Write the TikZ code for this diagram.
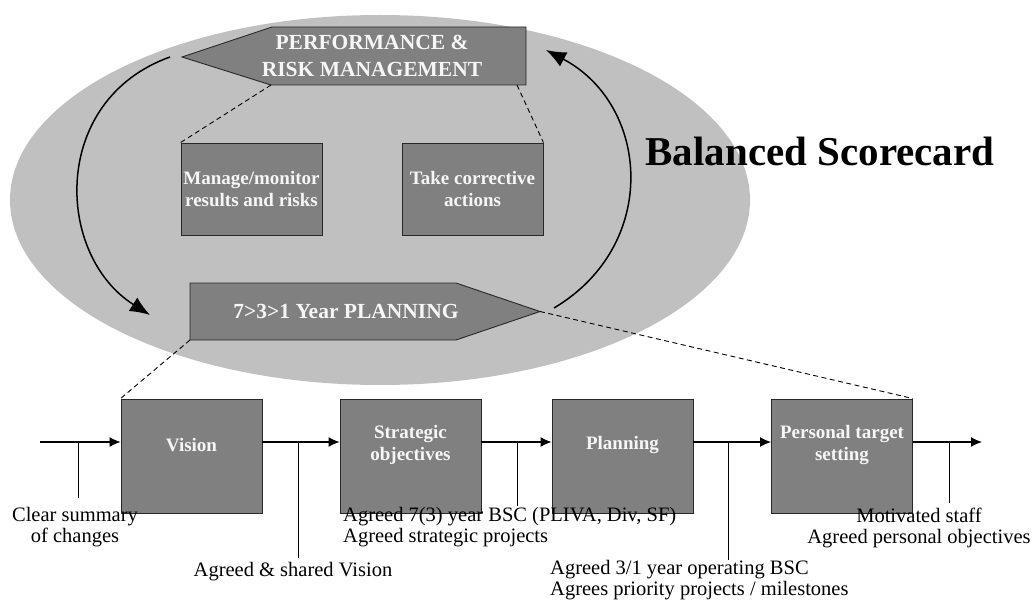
\documentclass[tikz,border=0pt]{standalone}
\usepackage{fontspec}
\setmainfont{Liberation Serif}
\usetikzlibrary{arrows.meta,positioning}

\definecolor{ovalgrey}{RGB}{192,192,192}
\definecolor{boxgrey}{RGB}{128,128,128}
\definecolor{boxline}{RGB}{40,40,40}
\definecolor{boxtext}{RGB}{246,246,246}

\tikzset{
  greybox/.style={draw=boxline, fill=boxgrey, line width=0.9pt, inner sep=0pt},
  boxlabel/.style={text=boxtext, font=\bfseries\fontsize{19}{22}\selectfont, align=center, inner sep=0pt},
  flowarrow/.style={-{Latex[length=11pt,width=10pt]}, line width=1.3pt},
  bigarrow/.style={-{Latex[length=20pt,width=16pt]}, line width=1.5pt},
  zoomline/.style={dash pattern=on 5pt off 3.5pt, line width=0.9pt},
  noteline/.style={line width=0.8pt},
  notetext/.style={font=\fontsize{20.5}{21}\selectfont, align=center, inner sep=0pt},
}

\begin{document}
\begin{tikzpicture}[x=1pt,y=-1pt]
\useasboundingbox (0,0) rectangle (1033,604);

% grey oval behind the cycle
\fill[ovalgrey] (380,200) ellipse [x radius=370pt, y radius=185pt];

% performance & risk management, pointing left
\coordinate (perftip) at (182,57);
\coordinate (perfnw) at (272,27);
\coordinate (perfne) at (526,27);
\coordinate (perfse) at (526,85);
\coordinate (perfsw) at (271,85);
\coordinate (perfcut) at (517,85);
\draw[greybox] (perftip) -- (perfnw) -- (perfne) -- (perfse) -- (perfsw) -- cycle;
\node[boxlabel, font=\bfseries\fontsize{21.5}{27}\selectfont] (perf) at (372,56) {PERFORMANCE \&\\RISK MANAGEMENT};

% 7>3>1 planning, pointing right
\coordinate (plansw) at (190,340);
\coordinate (plannw) at (190,283);
\coordinate (planne) at (456,283);
\coordinate (plantip) at (540,311.5);
\coordinate (planse) at (456,340);
\draw[greybox] (plansw) -- (plannw) -- (planne) -- (plantip) -- (planse) -- cycle;
\node[boxlabel, font=\bfseries\fontsize{21.5}{24}\selectfont] (plan) at (346,311) {7>3>1 Year PLANNING};

% the two inner boxes
\node[greybox, boxlabel, minimum width=141pt, minimum height=92pt] (manage) at (251.5,189) {Manage/monitor\\results and risks};
\node[greybox, boxlabel, minimum width=141pt, minimum height=92pt] (correct) at (472.5,189) {Take corrective\\actions};
\draw[zoomline] (perfsw) -- (manage.north west);
\draw[zoomline] (perfcut) -- (correct.north east);

% the cycle arrows
\coordinate (downstart) at (170,57);
\coordinate (downend) at (150,315);
\coordinate (upstart) at (554,308);
\coordinate (upend) at (546,50);
\draw[bigarrow] (downstart) .. controls (50,100) and (55,255) .. (downend);
\draw[bigarrow] (upstart) .. controls (660,245) and (650,105) .. (upend);

\node[font=\bfseries\fontsize{41}{44}\selectfont, inner sep=0pt] (title) at (820,151) {Balanced Scorecard};

% process row
\foreach \name/\x/\txt in {vision/191.5/Vision, strat/410.5/{Strategic\\objectives}, planning/622.5/Planning, personal/842/{Personal target\\setting}} {
  \node[greybox, minimum width=141pt, minimum height=114pt] (\name) at (\x,456) {};
  \node[boxlabel] (\name-txt) at (\x,445) {\txt};
}
\draw[zoomline] (plansw) -- (vision.north west);
\draw[zoomline] (plantip) -- (personal.north east);

\coordinate (flowin) at (40,442);
\coordinate (flowout) at (982,442);
\draw[flowarrow] (flowin) -- (flowin -| vision.west);
\draw[flowarrow] (vision.east |- flowin) -- (strat.west |- flowin);
\draw[flowarrow] (strat.east |- flowin) -- (planning.west |- flowin);
\draw[flowarrow] (planning.east |- flowin) -- (personal.west |- flowin);
\draw[flowarrow] (personal.east |- flowin) -- (flowout);

% outcome markers and their texts
\foreach \name/\x/\y in {clear/78/498, shared/298/558, bsc/517/506, operating/728/560, staff/949/503} {
  \coordinate (\name) at (\x,\y);
  \draw[noteline] (\name) -- (\name |- flowin);
}
\node[notetext] (clearlbl) at (75,527.5) {Clear summary\\of changes};
\node[notetext] (sharedlbl) at (293,572) {Agreed \& shared Vision};
\node[notetext, align=left, anchor=west] (bsclbl) at (343,527.5) {Agreed 7(3) year BSC (PLIVA, Div, SF)\\Agreed strategic projects};
\node[notetext, align=left, anchor=west] (operatinglbl) at (550,580) {Agreed 3/1 year operating BSC\\Agrees priority projects / milestones};
\node[notetext] (stafflbl) at (919,527.5) {Motivated staff\\Agreed personal objectives};
\end{tikzpicture}
\end{document}
